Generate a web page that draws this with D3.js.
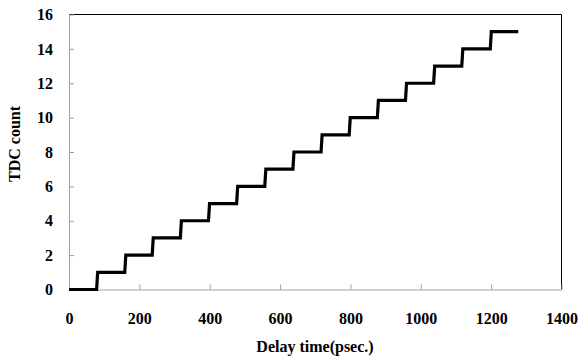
<!DOCTYPE html>
<html><head><meta charset="utf-8">
<script src="https://cdn.jsdelivr.net/npm/d3@7"></script>
<style>body{margin:0;background:#fff}svg{display:block}</style>
</head><body>
<script>
const stepStarts = [0, 80, 160, 238, 318, 398, 478, 558, 638, 718, 798, 878, 958, 1038, 1118, 1199];
const stepCounts = [0, 1, 2, 3, 4, 5, 6, 7, 8, 9, 10, 11, 12, 13, 14, 15];
const lastX = 1277;
const xTicks = [0, 200, 400, 600, 800, 1000, 1200, 1400];
const yTicks = [0, 2, 4, 6, 8, 10, 12, 14, 16];

const W = 579, H = 360;
const L = 69, R = 561.5, T = 14.5, B = 289.5;
const svg = d3.select("body").append("svg").attr("width", W).attr("height", H);
const x = d3.scaleLinear().domain([0, 1400]).range([L, R]);
const y = d3.scaleLinear().domain([0, 16]).range([B, T]);

// frame top/right
svg.append("path").attr("d", `M${L},${T}H${R}V${B}`).attr("fill", "none").attr("stroke", "#000").attr("stroke-width", 1);

const font = "'Liberation Serif','Times New Roman',serif";
const xAxis = svg.append("g").attr("transform", `translate(0,${B})`)
  .call(d3.axisBottom(x).tickValues(xTicks).tickFormat(d3.format("d")).tickSizeInner(-5).tickSizeOuter(0).tickPadding(23));
const yAxis = svg.append("g").attr("transform", `translate(${L},0)`)
  .call(d3.axisLeft(y).tickValues(yTicks).tickFormat(d3.format("d")).tickSizeInner(-5).tickSizeOuter(0).tickPadding(16));
[xAxis, yAxis].forEach(g => {
  g.select(".domain").attr("stroke", "#a0a0a0");
  g.selectAll(".tick line").attr("stroke", "#a0a0a0");
  g.selectAll(".tick text").attr("font-family", font).attr("font-weight", "bold").attr("font-size", 16).attr("fill", "#000");
});
xAxis.selectAll(".tick text").attr("dy", "0.71em");

// data points: step function
const pts = [];
stepStarts.forEach((s, i) => {
  if (i > 0) pts.push([s - 1.5, stepCounts[i - 1]]);
  pts.push([s + (i > 0 ? 1.5 : 0), stepCounts[i]]);
});
pts.push([lastX, stepCounts[stepCounts.length - 1]]);
svg.append("path").datum(pts)
  .attr("d", d3.line().x(d => x(d[0])).y(d => y(d[1])))
  .attr("fill", "none").attr("stroke", "#000").attr("stroke-width", 3.2).attr("stroke-linejoin", "miter");

svg.append("text").attr("x", 315).attr("y", 352).attr("text-anchor", "middle")
  .attr("font-family", font).attr("font-weight", "bold").attr("font-size", 16).text("Delay time(psec.)");
svg.append("text").attr("transform", `translate(20,144) rotate(-90)`).attr("text-anchor", "middle")
  .attr("font-family", font).attr("font-weight", "bold").attr("font-size", 16).text("TDC count");
</script>
</body></html>
